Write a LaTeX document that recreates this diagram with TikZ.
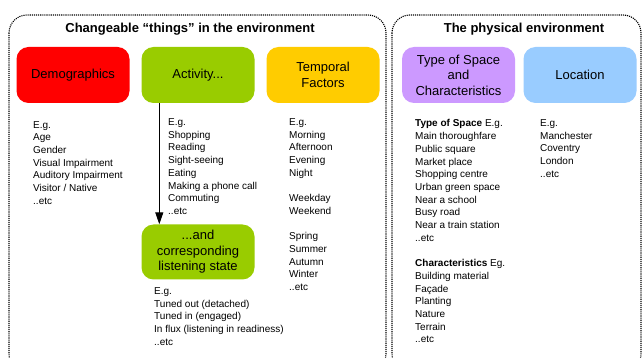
\documentclass[tikz,border=0pt]{standalone}
\usepackage{fontspec}
\setmainfont{Liberation Sans}
\usetikzlibrary{arrows.meta}
\definecolor{cred}{HTML}{FF0000}
\definecolor{cgreen}{HTML}{99CC00}
\definecolor{cyellow}{HTML}{FFCC00}
\definecolor{cpurple}{HTML}{CC99FF}
\definecolor{cblue}{HTML}{99CCFF}
\begin{document}
\begin{tikzpicture}[x=1pt,y=-1pt,
  group/.style={densely dotted, line width=1.1pt, rounded corners=18pt},
  gtitle/.style={font=\bfseries\fontsize{13}{15.5}\selectfont, inner sep=0},
  cat/.style={rounded corners=12pt, minimum width=113pt, minimum height=56pt, align=center,
    font=\fontsize{13}{15.5}\selectfont, inner sep=0},
  list/.style={anchor=north west, align=left, inner sep=0, font=\fontsize{10}{12.7}\selectfont},
  flow/.style={line width=1pt, -{Triangle[length=12pt,width=8pt]}}]
\useasboundingbox (0,0) rectangle (643,358);
\fill[white] (0,0) rectangle (643,358);
\draw[group] (9,15) rectangle (386,372);
\draw[group] (392,15) rectangle (641,372);
\node[gtitle] (t1) at (190,29) {Changeable “things” in the environment};
\node[gtitle] (t2) at (524,29) {The physical environment};

\node[cat, fill=cred] (demo) at (73,75) {Demographics};
\node[cat, fill=cgreen] (act) at (198,75) {Activity...};
\node[cat, fill=cyellow] (temp) at (323,75) {Temporal\\Factors};
\node[cat, fill=cpurple] (space) at (458.5,75) {Type of Space\\and\\Characteristics};
\node[cat, fill=cblue] (loc) at (580,75) {Location};
\node[cat, fill=cgreen, minimum height=55pt] (listen) at (198,252) {...and\\corresponding\\listening state};

\draw[flow] ([xshift=18pt]act.south west) -- ([xshift=18pt]listen.north west);

\node[list] (demolist) at (33,121) {E.g.\\Age\\Gender\\Visual Impairment\\Auditory Impairment\\Visitor / Native\\..etc};
\node[list] (actlist) at (168,118.5) {E.g.\\Shopping\\Reading\\Sight-seeing\\Eating\\Making a phone call\\Commuting\\..etc};
\node[list] (templist) at (289,118.5) {E.g.\\Morning\\Afternoon\\Evening\\Night\\[12.7pt]Weekday\\Weekend\\[12.7pt]Spring\\Summer\\Autumn\\Winter\\..etc};
\node[list] (listenlist) at (154,287.5) {E.g.\\Tuned out (detached)\\Tuned in (engaged)\\In flux (listening in readiness)\\..etc};
\node[list] (spacelist) at (415,119.5) {\textbf{Type of Space} E.g.\\Main thoroughfare\\Public square\\Market place\\Shopping centre\\Urban green space\\Near a school\\Busy road\\Near a train station\\..etc\\[12.7pt]\textbf{Characteristics} Eg.\\Building material\\Façade\\Planting\\Nature\\Terrain\\..etc};
\node[list] (loclist) at (540,119.5) {E.g.\\Manchester\\Coventry\\London\\..etc};
\end{tikzpicture}
\end{document}
